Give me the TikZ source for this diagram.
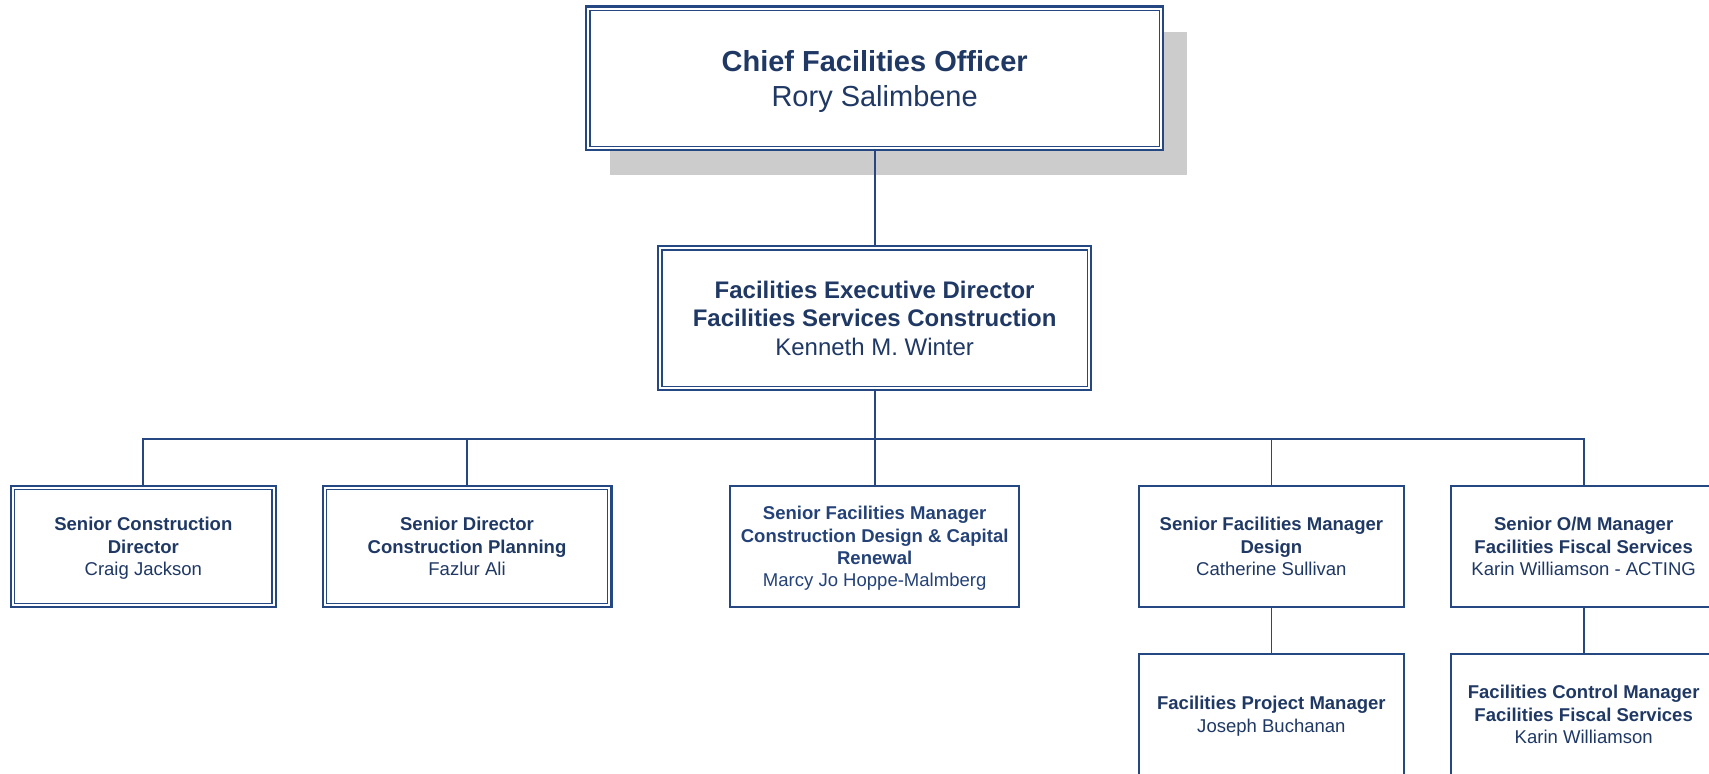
\documentclass[tikz,border=0pt]{standalone}
\usepackage{fontspec}
\setmainfont{Liberation Sans}
\usetikzlibrary{shadows}
\definecolor{navy}{RGB}{31,56,100}
\definecolor{navyb}{RGB}{36,66,120}
\definecolor{lineblue}{RGB}{38,72,130}
\definecolor{shadowgray}{RGB}{204,204,204}
\newcommand\mytopstrut{\rule{0pt}{0.97em}}
\newcommand\mybotstrut{\rule[-0.25em]{0pt}{0.25em}}
\begin{document}
\begin{tikzpicture}[x=0.5pt,y=-0.5pt,
  box/.style={draw=lineblue, line width=1pt, fill=white, text=navy, align=center,
    inner sep=0pt, font=\fontsize{8.5}{10.3}\selectfont},
  lvl/.style={box, minimum height=55.5pt},
  innerframe/.style={draw=lineblue, line width=0.6pt},
  conn/.style={draw=lineblue, line width=0.8pt}]
\useasboundingbox (0,0) rectangle (1568,710);
\clip (0,0) rectangle (1568,710);

% top
\node[box, minimum width=264.5pt, minimum height=66pt,
  font=\fontsize{13.3}{16}\selectfont,
  drop shadow={shadow xshift=11pt, shadow yshift=-11.5pt, fill=shadowgray, opacity=1}]
  (ceo) at (802.5,72) {\mytopstrut\textbf{Chief Facilities Officer}\\Rory Salimbene\mybotstrut};

\node[box, minimum width=198.5pt, minimum height=66pt,
  font=\fontsize{11}{13}\selectfont]
  (exec) at (802.5,292) {\mytopstrut\textbf{Facilities Executive Director}\\\textbf{Facilities Services Construction}\\Kenneth M. Winter\mybotstrut};

% level 2
\node[lvl, minimum width=121.5pt] (b1) at (131.5,501.5)
  {\mytopstrut\textbf{Senior Construction}\\\textbf{Director}\\Craig Jackson\mybotstrut};
\node[lvl, minimum width=132.5pt] (b2) at (428.5,501.5)
  {\mytopstrut\textbf{Senior Director}\\\textbf{Construction Planning}\\Fazlur Ali\mybotstrut};
\node[lvl, minimum width=132.5pt, text=navyb] (b3) at (802.5,501.5)
  {\mytopstrut\textbf{Senior Facilities Manager}\\\textbf{Construction Design \& Capital}\\\textbf{Renewal}\\Marcy Jo Hoppe-Malmberg\mybotstrut};
\node[lvl, minimum width=121.5pt] (b4) at (1166.5,501.5)
  {\mytopstrut\textbf{Senior Facilities Manager}\\\textbf{Design}\\Catherine Sullivan\mybotstrut};
\node[lvl, minimum width=122pt] (b5) at (1453,501.5)
  {\mytopstrut\textbf{Senior O/M Manager}\\\textbf{Facilities Fiscal Services}\\Karin Williamson - ACTING\mybotstrut};

% level 3
\node[lvl, minimum width=121.5pt] (b6) at (1166.5,655.5)
  {\mytopstrut\textbf{Facilities Project Manager}\\Joseph Buchanan\mybotstrut};
\node[lvl, minimum width=122pt] (b7) at (1453,655.5)
  {\mytopstrut\textbf{Facilities Control Manager}\\\textbf{Facilities Fiscal Services}\\Karin Williamson\mybotstrut};

% inner frames of double-bordered boxes
\foreach \n in {ceo,exec,b1,b2}
  \draw[innerframe] ([shift={(2.2pt,-2.2pt)}]\n.north west) rectangle ([shift={(-2.2pt,2.2pt)}]\n.south east);

% connectors
\coordinate (bus) at (802.5,403);
\draw[conn] (ceo.south) -- (exec.north);
\draw[conn] (exec.south) -- (bus);
\draw[conn] (b1.north) -- (b1.north |- bus) -- (b5.north |- bus) -- (b5.north);
\draw[conn] (b2.north) -- (b2.north |- bus);
\draw[conn] (b3.north) -- (b3.north |- bus);
\draw[conn] (b4.north) -- (b4.north |- bus);
\draw[conn] (b4.south) -- (b6.north);
\draw[conn] (b5.south) -- (b7.north);
\end{tikzpicture}
\end{document}
